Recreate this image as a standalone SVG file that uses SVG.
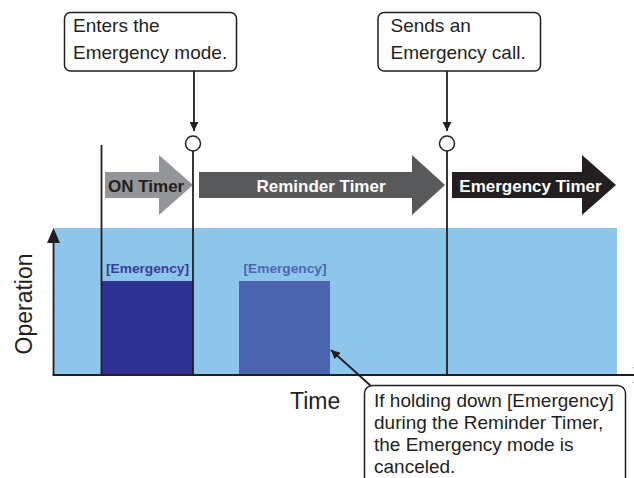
<svg xmlns="http://www.w3.org/2000/svg" width="634" height="478" viewBox="0 0 634 478">
<style>
.callout{fill:#fff;stroke:#231f20;stroke-width:1.5}
.ct{font-family:"Liberation Sans",Arial,sans-serif;font-size:19px;fill:#231f20}
.tl{font-family:"Liberation Sans",Arial,sans-serif;font-size:17px;font-weight:bold}
.el{font-family:"Liberation Sans",Arial,sans-serif;font-size:13.7px;font-weight:bold}
.ax{font-family:"Liberation Sans",Arial,sans-serif;font-size:23px;fill:#231f20}
.ln{stroke:#231f20;stroke-width:1.8;fill:none}
</style>
<defs>
<marker id="ah" viewBox="0 0 10 10" refX="10" refY="5" markerWidth="9" markerHeight="9" markerUnits="userSpaceOnUse" orient="auto">
<path d="M0,0 L10,5 L0,10 z" fill="#231f20"/>
</marker>
</defs>
<rect id="plot-area" x="54" y="228" width="563" height="147" fill="#8dc5eb"/>
<g id="emergency-press-1">
<rect x="102" y="281" width="91" height="94" fill="#2e3192"/>
<text class="el" x="147.5" y="272.5" text-anchor="middle" fill="#393e98">[Emergency]</text>
</g>
<g id="emergency-press-2">
<rect x="239" y="281" width="91" height="94" fill="#4a64ae"/>
<text class="el" x="285" y="272.5" text-anchor="middle" fill="#4f67b0">[Emergency]</text>
</g>
<g id="on-timer">
<path d="M105,172 H159 V155 L193,185 L159,215 V198 H105 z" fill="#939598"/>
<text class="tl" x="108" y="191.5" fill="#231f20">ON Timer</text>
</g>
<g id="reminder-timer">
<path d="M199,172 H412 V155 L445,185 L412,215 V198 H199 z" fill="#58595b"/>
<text class="tl" x="321" y="191.5" text-anchor="middle" fill="#fff">Reminder Timer</text>
</g>
<g id="emergency-timer">
<path d="M452,172 H582 V155 L616,185 L582,215 V198 H452 z" fill="#231f20"/>
<text class="tl" x="530.5" y="191.5" text-anchor="middle" fill="#fff">Emergency Timer</text>
</g>
<g id="callout-enter">
<rect class="callout" x="64.5" y="12.5" width="172" height="58.5" rx="6"/>
<text class="ct" x="73" y="32">Enters the</text>
<text class="ct" x="73" y="59">Emergency mode.</text>
</g>
<g id="callout-send">
<rect class="callout" x="378" y="12.5" width="162.5" height="58.5" rx="6"/>
<text class="ct" x="390.5" y="32">Sends an</text>
<text class="ct" x="390.5" y="59">Emergency call.</text>
</g>
<g id="callout-cancel">
<rect class="callout" x="364.5" y="385.5" width="261" height="110" rx="8"/>
<text class="ct" x="374" y="407">If holding down [Emergency]</text>
<text class="ct" x="374" y="429">during the Reminder Timer,</text>
<text class="ct" x="374" y="451">the Emergency mode is</text>
<text class="ct" x="374" y="473">canceled.</text>
</g>
<g id="axes">
<line class="ln" x1="53.5" y1="375" x2="53.5" y2="240" stroke-width="2"/>
<path d="M53.5,228 L60,243 L47,243 z" fill="#231f20"/>
<line class="ln" x1="52.5" y1="375" x2="640" y2="375" stroke-width="2"/>
<path d="M650,375 L633,367 L638,375 L633,383 z" fill="#231f20"/>
<text class="ax" transform="translate(32,304) rotate(-90)" text-anchor="middle">Operation</text>
<text class="ax" x="290" y="409">Time</text>
</g>
<g id="connectors">
<line class="ln" x1="101.5" y1="145" x2="101.5" y2="375"/>
<line class="ln" x1="193" y1="151" x2="193" y2="375"/>
<line class="ln" x1="447" y1="151" x2="447" y2="375"/>
<circle cx="193" cy="143.5" r="7.5" fill="#fff" stroke="#231f20" stroke-width="1.5"/>
<circle cx="447" cy="143.5" r="7.5" fill="#fff" stroke="#231f20" stroke-width="1.5"/>
<line class="ln" x1="194" y1="71" x2="194" y2="131" stroke-width="1.5" marker-end="url(#ah)"/>
<line class="ln" x1="447" y1="71" x2="447" y2="131" stroke-width="1.5" marker-end="url(#ah)"/>
<line class="ln" x1="371" y1="386" x2="331" y2="350" stroke-width="1.5" marker-end="url(#ah)"/>
</g>
</svg>
